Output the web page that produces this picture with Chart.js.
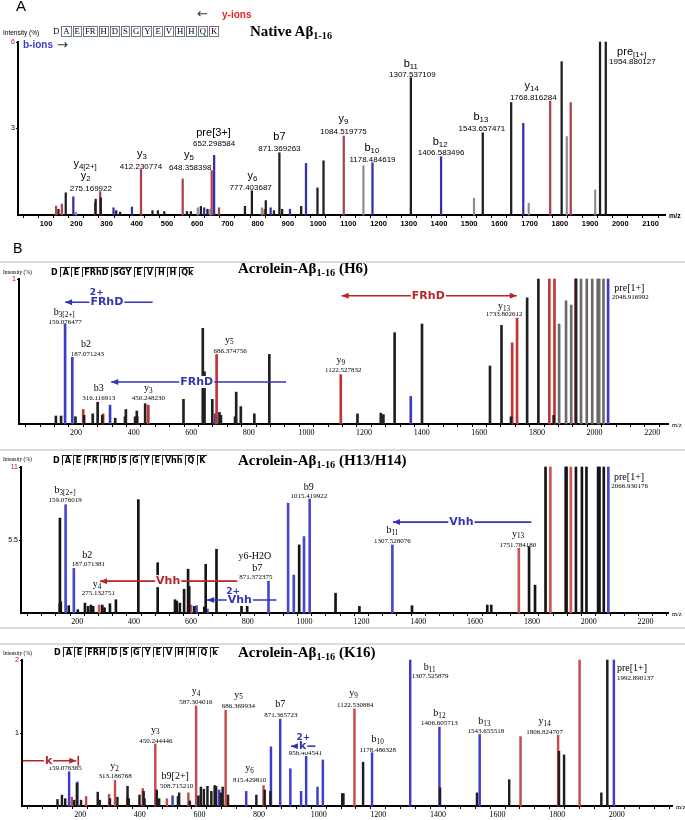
<!DOCTYPE html>
<html><head><meta charset="utf-8">
<script src="https://cdn.jsdelivr.net/npm/chart.js@4.4.1/dist/chart.umd.min.js"></script>
<style>
body{margin:0;width:685px;height:820px;position:relative;background:#fff;overflow:hidden;font-family:"Liberation Sans",Arial,sans-serif}
canvas{position:absolute;left:0}
.t{position:absolute;white-space:nowrap;z-index:5}
.sep{position:absolute;left:0;width:685px;height:1.5px;background:#dcdcdc}
.seq span{display:inline-block;line-height:9px;padding:0 1px 0 1.5px;margin-left:1.5px}
.seqA span.r{border-left:1px solid #8e5aa0;border-top:1px solid #8e5aa0;border-right:1px solid #5d8f66;border-bottom:1px solid #5d8f66;margin-left:1px;padding:0 1px}
.seqB span.r{border-left:1px solid #222;border-top:1px solid #222}
sub{font-size:68%;vertical-align:-3px}
</style></head><body>

<!-- Panel A header -->
<div class="t" style="left:16px;top:-3px;font:15px 'Liberation Sans'">A</div>
<div class="t" style="left:197px;top:6px;font:13px 'DejaVu Sans';color:#333">&#8592;</div>
<div class="t" style="left:222px;top:9px;font:bold 10px 'Liberation Sans';color:#e3262a">y-ions</div>
<div class="t" style="left:3px;top:29px;font:6.5px 'Liberation Sans'">Intensity (%)</div>
<div class="t seq seqA" id="seqA" style="left:50px;top:26px;font:8.7px 'Liberation Serif'"></div>
<div class="t" style="left:23px;top:39px;font:bold 10px 'Liberation Sans';color:#3b3bd0">b-ions</div>
<div class="t" style="left:57px;top:37px;font:13px 'DejaVu Sans';color:#333">&#8594;</div>
<div class="t" style="left:250px;top:23px;font:bold 15px 'Liberation Serif'">Native A&beta;<sub>1-16</sub></div>

<!-- Panel B header -->
<div class="t" style="left:13px;top:240px;font:14px 'Liberation Sans'">B</div>
<div class="sep" style="top:261px"></div>
<div class="t" style="left:3px;top:269px;font:5.5px 'Liberation Serif'">Intensity (%)</div>
<div class="t seq seqB" id="seqB" style="left:48px;top:267px;font:bold 8px 'DejaVu Sans'"></div>
<div class="t" style="left:238px;top:260px;font:bold 15px 'Liberation Serif'">Acrolein-A&beta;<sub>1-16</sub> (H6)</div>

<!-- Panel C header -->
<div class="sep" style="top:449px"></div>
<div class="t" style="left:3px;top:456px;font:5.5px 'Liberation Serif'">Intensity (%)</div>
<div class="t seq seqB" id="seqC" style="left:50px;top:455px;font:bold 8px 'DejaVu Sans'"></div>
<div class="t" style="left:238px;top:452px;font:bold 15px 'Liberation Serif'">Acrolein-A&beta;<sub>1-16</sub> (H13/H14)</div>

<!-- Panel D header -->
<div class="sep" style="top:627px"></div>
<div class="sep" style="top:643px"></div>
<div class="t" style="left:3px;top:650px;font:5.5px 'Liberation Serif'">Intensity (%)</div>
<div class="t seq seqB" id="seqD" style="left:51px;top:647px;font:bold 8px 'DejaVu Sans'"></div>
<div class="t" style="left:238px;top:644px;font:bold 15px 'Liberation Serif'">Acrolein-A&beta;<sub>1-16</sub> (K16)</div>

<canvas id="cA" width="685" height="240" style="top:0px"></canvas>
<canvas id="cB" width="685" height="188" style="top:262px"></canvas>
<canvas id="cC" width="685" height="175" style="top:451px"></canvas>
<canvas id="cD" width="685" height="176" style="top:644px"></canvas>

<script>
// ---------------- sequences ----------------
const SEQ_A = ['D','A','E','FR','H','D','S','G','Y','E','V','H','H','Q','K'];
const SEQ_B = ['D','A','E','FRhD','SGY','E','V','H','H','Qk'];
const SEQ_C = ['D','A','E','FR','HD','S','G','Y','E','Vhh','Q','K'];
const SEQ_D = ['D','A','E','FRH','D','S','G','Y','E','V','H','H','Q','k'];

// ---------------- Panel A: Native Abeta1-16 (m/z, intensity) ----------------
const A_GREY  = [[199,0.1],[602,0.25],[643,0.2],[814,0.25],[1150,1.71],[1516,0.58],[1697,0.41],[1823,2.72],[1917,0.87]];
const A_BLACK = [[141,0.2],[165,0.77],[264,0.55],[281,0.6],[332,0.15],[345,0.1],[452,0.15],[470,0.15],[491,0.12],[566,0.12],[579,0.12],[612,0.3],[634,0.2],[758,0.3],[781,0.84],[827,0.5],[854,0.15],[872,2.16],[881,0.2],[944,0.3],[998,0.94],[1018,1.88],[1307,4.76],[1545,2.85],[1639,3.9],[1806,5.32],[1933,6],[1952,6]];
const A_RED   = [[133,0.31],[152,0.38],[262,0.43],[279,0.81],[414,1.58],[552,1.25],[648,1.54],[672,0.25],[823,0.2],[1085,2.74],[1768,3.95],[1836,3.9]];
const A_BLUE  = [[190,0.63],[323,0.25],[384,0.28],[623,0.25],[656,2.07],[843,0.25],[907,0.2],[960,1.79],[1180,1.81],[1407,2.02],[1679,3.18]];
const A_NAMES = [[229,1.77,'y_4[2+]'],[231,1.35,'y_2'],[417,2.12,'y_3'],[573,2.08,'y_5'],[654,2.83,'pre[3+]'],[783,1.35,'y_6'],[872,2.69,'b7'],[1084,3.32,'y_9'],[1178,2.33,'b_10'],[1307,5.23,'b_11'],[1404,2.54,'b_12'],[1539,3.39,'b_13'],[1707,4.47,'y_14'],[2038,5.66,'pre_[1+]']];
const A_NUMS  = [[248,0.91,'275.169922'],[414,1.68,'412.230774'],[577,1.65,'648.358398'],[656,2.46,'652.298584'],[777,0.95,'777.403687'],[872,2.29,'871.369263'],[1084,2.89,'1084.519775'],[1180,1.93,'1178.484619'],[1312,4.86,'1307.537109'],[1407,2.14,'1406.583496'],[1542,2.98,'1543.657471'],[1712,4.07,'1768.816284'],[2040,5.3,'1954.880127']];

// ---------------- Panel B: Acrolein (H6) ----------------
const B_BLACK = [[130,0.055],[148,0.055],[198,0.05],[228,0.06],[258,0.07],[275,0.15],[291,0.06],[336,0.04],[370,0.05],[373,0.1],[405,0.05],[411,0.09],[440,0.14],[573,0.17],[640,0.66],[646,0.36],[673,0.17],[698,0.08],[703,0.06],[752,0.05],[756,0.22],[772,0.12],[819,0.07],[871,0.48],[1177,0.07],[1258,0.075],[1267,0.065],[1306,0.63],[1401,0.69],[1637,0.4],[1677,0.68],[1710,0.05],[1766,0.87],[1805,1],[1858,0.06],[1936,1]];
const B_GREY  = [[1877,0.69],[1901,0.85],[1919,0.82],[1953,1],[1973,1],[1992,1],[2011,1],[2016,1],[2031,1]];
const B_RED   = [[225,0.1],[294,0.07],[413,0.05],[451,0.13],[688,0.48],[1119,0.34],[1714,0.56],[1731,0.73],[1843,1],[1861,1],[1934,1]];
const B_BLUE  = [[162,0.69],[187,0.46],[318,0.13],[683,0.07],[1362,0.19],[2047,1]];
const B_NAMES = [[159,0.77,'b_3[2+]'],[235,0.55,'b2'],[279,0.246,'b3'],[451,0.246,'y_3'],[732,0.58,'y_5'],[1119,0.44,'y_9'],[1686,0.81,'y_13'],[2121,0.936,'pre[1+]']];
const B_NUMS  = [[162,0.705,'159.076477'],[239,0.48,'187.071243'],[279,0.18,'316.116913'],[451,0.177,'450.248230'],[735,0.5,'686.374756'],[1128,0.37,'1122.527832'],[1686,0.757,'1733.802612'],[2124,0.874,'2048.916992']];

// ---------------- Panel C: Acrolein (H13/H14) ----------------
const C_BLACK = [[139,7.15],[142,0.85],[170,0.55],[202,0.25],[227,0.75],[238,0.5],[248,0.6],[256,0.5],[288,0.6],[296,0.4],[315,0.7],[336,1.0],[415,8.54],[483,3.79],[544,1.0],[550,0.9],[561,0.75],[576,1.79],[590,3.3],[594,2.0],[612,0.5],[647,0.45],[652,3.67],[690,4.8],[778,0.55],[798,0.55],[981,5.13],[1109,1.49],[1193,0.5],[1378,0.55],[1643,0.6],[1657,0.6],[1790,5.0],[1811,2.1],[1848,11],[1919,11],[1922,11],[1955,11],[1976,11],[1992,11],[2033,11],[2038,11],[2053,11]];
const C_RED   = [[137,0.7],[277,0.6],[601,0.6],[1754,4.88],[1865,11],[1937,11]];
const C_BLUE  = [[159,8.16],[188,3.36],[620,0.55],[658,0.3],[873,2.4],[942,8.28],[962,2.86],[998,5.76],[1018,8.59],[1309,5.13],[2069,11]];
const C_NAMES = [[157,9.22,'b_3[2+]'],[235,4.37,'b2'],[270,2.15,'y_4'],[825,4.24,'y6-H2O'],[833,3.36,'b7'],[1015,9.47,'b9'],[1309,6.21,'b_11'],[1751,5.96,'y_13'],[2142,10.23,'pre[1+]']];
const C_NUMS  = [[157,8.5,'159.076019'],[239,3.67,'187.071381'],[274,1.47,'275.132751'],[829,2.7,'871.372375'],[1015,8.79,'1015.419922'],[1309,5.43,'1307.528076'],[1751,5.08,'1751.784180'],[2144,9.55,'2066.930176']];

// ---------------- Panel D: Acrolein (K16) ----------------
const D_BLACK = [[124,0.09],[139,0.15],[150,0.1],[180,0.08],[189,0.31],[203,0.08],[259,0.19],[266,0.08],[300,0.1],[325,0.12],[359,0.27],[363,0.1],[399,0.15],[413,0.2],[416,0.1],[457,0.22],[465,0.1],[528,0.13],[532,0.18],[568,0.07],[597,0.14],[605,0.26],[615,0.23],[627,0.27],[640,0.2],[651,0.28],[656,0.27],[672,0.18],[678,0.26],[696,0.15],[791,0.15],[819,0.22],[838,0.2],[1079,0.17],[1083,0.17],[1149,0.6],[1407,0.25],[1531,0.18],[1639,0.36],[1806,0.75],[1823,0.7],[1948,0.18],[1968,2]];
const D_RED   = [[172,0.12],[220,0.13],[297,0.16],[317,0.35],[358,0.12],[410,0.24],[452,0.85],[491,0.1],[563,0.18],[589,1.37],[688,1.31],[815,0.28],[1120,1.33],[1677,0.95],[1803,0.97],[1875,2]];
const D_BLUE  = [[163,0.47],[191,0.33],[510,0.14],[591,0.13],[666,0.22],[757,0.2],[840,0.81],[871,1.19],[905,0.51],[941,0.2],[958,0.68],[996,0.26],[1014,0.63],[1179,0.73],[1307,2],[1405,1.08],[1540,0.98],[1990,2]];
const D_NAMES = [[315,0.54,'y_2'],[452,1.04,'y_3'],[519,0.41,'b9[2+]'],[589,1.57,'y_4'],[731,1.52,'y_5'],[871,1.39,'b7'],[768,0.51,'y_6'],[1117,1.54,'y_9'],[1198,0.91,'b_10'],[1372,1.9,'b_11'],[1405,1.27,'b_12'],[1556,1.16,'b_13'],[1758,1.16,'y_14'],[2051,1.88,'pre[1+]']];
const D_NUMS  = [[150,0.52,'159.076385'],[317,0.41,'313.186768'],[454,0.89,'450.244446'],[524,0.27,'508.715210'],[588,1.42,'587.304016'],[731,1.37,'686.369934'],[873,1.24,'871.365723'],[768,0.35,'815.429810'],[955,0.72,'958.404541'],[1123,1.38,'1122.530884'],[1198,0.77,'1178.486328'],[1374,1.78,'1307.525879'],[1405,1.13,'1406.605713'],[1561,1.03,'1543.655518'],[1758,1.01,'1806.824707'],[2062,1.75,'1992.890137']];

// fragment arrows: [from m/z, to m/z, intensity, colour key, heads, text, text m/z, sup m/z, sup intensity]
const B_ARROWS = [[162,466,0.84,'blue','left','FRhD',307,272,0.905],[1122,1730,0.885,'red','both','FRhD',1423,null,null],[322,929,0.29,'blue','left','FRhD',619,null,null]];
const C_ARROWS = [[280,763,2.4,'red','left','Vhh',520,null,null],[657,901,0.98,'blue','left','Vhh',772,749,1.64],[1311,1798,6.85,'blue','left','Vhh',1552,null,null]];
const D_ARROWS = [[8,187,0.62,'red','right','k',94,null,null],[907,989,0.82,'blue','left','k',946,949,0.93]];

// ---------------- rendering ----------------
function fillSeq(id, seq){
  const el=document.getElementById(id);
  seq.forEach((r,i)=>{const s=document.createElement('span');s.textContent=r;if(i>0)s.className='r';el.appendChild(s);});
}
fillSeq('seqA',SEQ_A);fillSeq('seqB',SEQ_B);fillSeq('seqC',SEQ_C);fillSeq('seqD',SEQ_D);

const ARROW_COL={red:'#b82525',blue:'#3434b4'};

function ds(arr,color,w){
  return {type:'bar',data:arr.map(p=>({x:p[0],y:p[1]})),backgroundColor:color,borderWidth:0,barThickness:w,grouped:false,clip:false};
}

function drawIon(ctx,x,y,text,size,family,weight){
  let base=text,sub='';
  const i=text.indexOf('_');
  if(i>=0){base=text.slice(0,i);sub=text.slice(i+1);}
  const ss=size*0.72;
  ctx.font=weight+' '+size+'px '+family;
  const wb=ctx.measureText(base).width;
  ctx.font=weight+' '+ss+'px '+family;
  const ws=sub?ctx.measureText(sub).width:0;
  const sx=x-(wb+ws)/2;
  ctx.textAlign='left';ctx.textBaseline='middle';
  ctx.font=weight+' '+size+'px '+family;ctx.fillText(base,sx,y);
  if(sub){ctx.font=weight+' '+ss+'px '+family;ctx.fillText(sub,sx+wb,y+size*0.25);}
}

function makeAnnot(cfg){
  return {id:'annot',afterDatasetsDraw(chart){
    const ctx=chart.ctx,xs=chart.scales.x,ys=chart.scales.y,ca=chart.chartArea;
    ctx.save();ctx.fillStyle='#000';
    cfg.nums.forEach(n=>{ctx.font=cfg.numFont;ctx.textAlign='center';ctx.textBaseline='middle';ctx.fillText(n[2],xs.getPixelForValue(n[0]),ys.getPixelForValue(n[1]));});
    cfg.names.forEach(n=>drawIon(ctx,xs.getPixelForValue(n[0]),ys.getPixelForValue(n[1]),n[2],cfg.nameSize,cfg.nameFamily,cfg.nameWeight));
    (cfg.arrows||[]).forEach(a=>{
      const col=ARROW_COL[a[3]];
      const x1=xs.getPixelForValue(a[0]),x2=xs.getPixelForValue(a[1]),y=ys.getPixelForValue(a[2]);
      ctx.strokeStyle=col;ctx.fillStyle=col;ctx.lineWidth=1.6;
      ctx.beginPath();ctx.moveTo(x1,y);ctx.lineTo(x2,y);ctx.stroke();
      const head=(x,dir)=>{ctx.beginPath();ctx.moveTo(x,y);ctx.lineTo(x-dir*7,y-3);ctx.lineTo(x-dir*7,y+3);ctx.closePath();ctx.fill();};
      if(a[4]==='left'||a[4]==='both')head(x1,-1);
      if(a[4]==='right'||a[4]==='both')head(x2,1);
      if(a[4]==='right'){ctx.beginPath();ctx.moveTo(x2+2,y-5);ctx.lineTo(x2+2,y+5);ctx.stroke();}
      ctx.font='bold 11px "DejaVu Sans"';ctx.textAlign='center';ctx.textBaseline='middle';
      const tx=xs.getPixelForValue(a[6]);const w=ctx.measureText(a[5]).width;
      ctx.fillStyle='#fff';ctx.fillRect(tx-w/2-1,y-6,w+2,12);
      ctx.fillStyle=col;ctx.fillText(a[5],tx,y);
      if(a[7]!==null){ctx.font='bold 9px "DejaVu Sans"';ctx.fillText('2+',xs.getPixelForValue(a[7]),ys.getPixelForValue(a[8]));}
    });
    ctx.fillStyle='#000';ctx.font=cfg.mzFont;ctx.textAlign='left';ctx.textBaseline='middle';
    ctx.fillText('m/z',ca.right+4,ca.bottom+1);
    ctx.restore();
  }};
}

function makeChart(id,cfg){
  const xt=[];for(let v=50;v<=cfg.xmax;v+=50){if(v>=cfg.xmin)xt.push(v);}
  const yt=cfg.ymid?[cfg.ymid,cfg.ymax]:[cfg.ymax];
  new Chart(document.getElementById(id),{
    type:'bar',
    data:{datasets:cfg.datasets},
    options:{
      responsive:false,animation:false,
      layout:{padding:cfg.pad},
      plugins:{legend:{display:false},tooltip:{enabled:false}},
      scales:{
        x:{type:'linear',min:cfg.xmin,max:cfg.xmax,offset:false,
          afterFit(s){s.height=cfg.xh;},
          afterBuildTicks(s){s.ticks=xt.map(v=>({value:v}));},
          grid:{display:true,drawOnChartArea:false,drawTicks:true,tickLength:3,color:'#000',lineWidth:1},
          border:{display:true,color:'#000',width:2},
          ticks:{autoSkip:false,maxRotation:0,minRotation:0,padding:1,color:'#000',font:cfg.xFont,
            callback:(v)=>(v%cfg.labelStep===0&&v>=cfg.firstLabel)?String(v):''}},
        y:{min:0,max:cfg.ymax,
          afterFit(s){s.width=cfg.yw;},
          afterBuildTicks(s){s.ticks=yt.map(v=>({value:v}));},
          grid:{display:true,drawOnChartArea:false,drawTicks:true,tickLength:2,color:'#000'},
          border:{display:true,color:'#000',width:2},
          ticks:{padding:1,font:{family:'Liberation Sans',size:7},
            color:(c)=>(c.tick&&c.tick.value===cfg.ymax)?'#c01818':'#000',
            callback:(v)=>String(v)}}
      }
    },
    plugins:[makeAnnot(cfg)]
  });
}

makeChart('cA',{xmin:7,xmax:2148,ymax:6,ymid:3,labelStep:100,firstLabel:100,yw:18,xh:14,
  pad:{left:0,right:20,top:42,bottom:11},
  xFont:{family:'Liberation Sans',size:7.5,weight:'bold'},
  datasets:[ds(A_GREY,'#8c8c8c',1.5),ds(A_BLACK,'#1e1e1e',1.6),ds(A_RED,'#b0404c',1.6),ds(A_BLUE,'#3232a6',1.6)],
  names:A_NAMES,nums:A_NUMS,nameSize:11,nameFamily:'"Liberation Sans"',nameWeight:'normal',
  numFont:'8px "Liberation Sans"',mzFont:'bold 7px "Liberation Sans"',arrows:[]});

makeChart('cB',{xmin:2,xmax:2255,ymax:1,ymid:null,labelStep:200,firstLabel:200,yw:19,xh:14,
  pad:{left:0,right:17,top:17,bottom:12},
  xFont:{family:'Liberation Serif',size:8},
  datasets:[ds(B_GREY,'#6a6a6a',2),ds(B_BLACK,'#202020',2),ds(B_RED,'#c23434',2),ds(B_BLUE,'#3c3cc4',2)],
  names:B_NAMES,nums:B_NUMS,nameSize:10,nameFamily:'"Liberation Serif"',nameWeight:'normal',
  numFont:'7px "Liberation Serif"',mzFont:'6.5px "Liberation Serif"',arrows:B_ARROWS});

makeChart('cC',{xmin:2,xmax:2279,ymax:11,ymid:5.5,labelStep:200,firstLabel:200,yw:21,xh:13,
  pad:{left:0,right:17,top:16,bottom:0},
  xFont:{family:'Liberation Serif',size:8},
  datasets:[ds(C_BLACK,'#151515',2),ds(C_RED,'#d05454',2),ds(C_BLUE,'#4848cc',2)],
  names:C_NAMES,nums:C_NUMS,nameSize:10,nameFamily:'"Liberation Serif"',nameWeight:'normal',
  numFont:'7px "Liberation Serif"',mzFont:'6.5px "Liberation Serif"',arrows:C_ARROWS});

makeChart('cD',{xmin:5,xmax:2185,ymax:2,ymid:1,labelStep:200,firstLabel:200,yw:22,xh:13,
  pad:{left:0,right:13,top:16,bottom:1},
  xFont:{family:'Liberation Serif',size:8},
  datasets:[ds(D_BLACK,'#1e1e1e',1.8),ds(D_RED,'#c84a4a',1.8),ds(D_BLUE,'#3c3cd0',1.8)],
  names:D_NAMES,nums:D_NUMS,nameSize:10,nameFamily:'"Liberation Serif"',nameWeight:'normal',
  numFont:'7px "Liberation Serif"',mzFont:'6.5px "Liberation Serif"',arrows:D_ARROWS});
</script>
</body></html>
